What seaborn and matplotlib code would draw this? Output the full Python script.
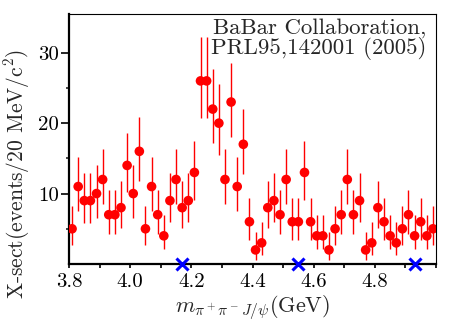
import numpy as np
import pandas as pd
import matplotlib
matplotlib.use("Agg")
import matplotlib.pyplot as plt
from matplotlib.ticker import MultipleLocator, FixedLocator, FormatStrFormatter
import seaborn as sns

# ---- data ----
mass = [3.81, 3.83, 3.85, 3.87, 3.89, 3.91, 3.93, 3.95, 3.97, 3.99,
        4.01, 4.03, 4.05, 4.07, 4.09, 4.11, 4.13, 4.15, 4.17, 4.19,
        4.21, 4.23, 4.25, 4.27, 4.29, 4.31, 4.33, 4.35, 4.37, 4.39,
        4.41, 4.43, 4.45, 4.47, 4.49, 4.51, 4.53, 4.55, 4.57, 4.59,
        4.61, 4.63, 4.65, 4.67, 4.69, 4.71, 4.73, 4.75, 4.77, 4.79,
        4.81, 4.83, 4.85, 4.87, 4.89, 4.91, 4.93, 4.95, 4.97, 4.99]
xsect = [5, 11, 9, 9, 10, 12, 7, 7, 8, 14,
         10, 16, 5, 11, 7, 4, 9, 12, 8, 9,
         13, 26, 26, 22, 20, 12, 23, 11, 17, 6,
         2, 3, 8, 9, 7, 12, 6, 6, 13, 6,
         4, 4, 2, 5, 7, 12, 7, 9, 2, 3,
         8, 6, 4, 3, 5, 7, 4, 6, 4, 5]
err_lo = [2.3, 3.5, 3.2, 3.2, 3.4, 3.5, 2.8, 2.8, 2.9, 3.8,
          3.4, 4.2, 2.3, 3.5, 2.8, 1.9, 3.1, 3.5, 2.9, 3.1,
          3.9, 5.2, 5.2, 4.8, 4.5, 3.5, 5.0, 3.5, 4.2, 2.6,
          1.4, 1.7, 2.9, 3.1, 2.8, 3.5, 2.6, 2.6, 3.9, 2.6,
          1.9, 1.9, 1.4, 2.3, 2.8, 3.5, 2.8, 3.1, 1.4, 1.7,
          2.9, 2.6, 1.9, 1.7, 2.3, 2.8, 1.9, 2.6, 1.9, 2.3]
err_hi = [3.2, 4.2, 3.9, 3.9, 4.1, 4.4, 3.5, 3.5, 3.8, 4.6,
          4.1, 4.9, 3.2, 4.2, 3.5, 3.0, 3.9, 4.4, 3.8, 3.9,
          4.5, 6.2, 6.2, 5.7, 5.5, 4.4, 5.6, 4.2, 5.0, 3.4,
          2.5, 2.9, 3.8, 3.9, 3.5, 4.4, 3.4, 3.4, 4.5, 3.4,
          3.0, 3.0, 2.5, 3.2, 3.5, 4.4, 3.5, 3.9, 2.5, 2.9,
          3.8, 3.4, 3.0, 2.9, 3.2, 3.5, 3.0, 3.4, 3.0, 3.2]
cross_mass = [4.17, 4.55, 4.93]
cross_y = [0, 0, 0]

xticks = [3.8, 4.0, 4.2, 4.4, 4.6, 4.8]
yticks = [10, 20, 30]

df = pd.DataFrame({"mass": mass, "xsect": xsect})
dfx = pd.DataFrame({"mass": cross_mass, "y": cross_y})

sns.set_theme(style="ticks")
plt.rcParams["font.family"] = ["cmr10", "DejaVu Serif"]
plt.rcParams["mathtext.fontset"] = "cm"
plt.rcParams["axes.formatter.use_mathtext"] = True

fig = plt.figure(figsize=(4.67, 3.32), dpi=100)
ax = fig.add_axes([69/467, 1-264/332, (436-69)/467, (264-14)/332])

ax.errorbar(df["mass"], df["xsect"], yerr=[err_lo, err_hi], fmt="none",
            ecolor="#ff0000", elinewidth=1.0, capsize=0, zorder=2)
sns.scatterplot(data=df, x="mass", y="xsect", ax=ax, color="#ff0000",
                s=48, edgecolor="none", linewidth=0, zorder=3, legend=False)
sns.scatterplot(data=dfx, x="mass", y="y", ax=ax, color="#0000ff", marker="x",
                s=75, linewidth=2.2, zorder=4, clip_on=False, legend=False)

ax.set_xlim(3.8, 5.0)
ax.set_ylim(0, 35.5)
ax.xaxis.set_major_locator(FixedLocator(xticks))
ax.xaxis.set_minor_locator(MultipleLocator(0.1))
ax.yaxis.set_major_locator(FixedLocator(yticks))
ax.yaxis.set_minor_locator(FixedLocator([5, 15, 25]))
ax.xaxis.set_major_formatter(FormatStrFormatter("%.1f"))
ax.yaxis.set_major_formatter(FormatStrFormatter("%d"))

ax.tick_params(axis="x", which="both", direction="out", length=3, width=1.2,
               labelsize=15, pad=3.5, colors="black")
ax.tick_params(axis="y", which="major", direction="out", length=6, width=1.2,
               labelsize=15, pad=1, colors="black")
ax.tick_params(axis="y", which="minor", direction="out", length=2.5, width=1.2)

for side in ["left", "bottom"]:
    ax.spines[side].set_linewidth(1.6)
for side in ["top", "right"]:
    ax.spines[side].set_linewidth(0.8)
for s in ax.spines.values():
    s.set_color("black")

ax.set_xlabel(r"$m_{\pi^+\pi^-J/\psi}$(GeV)", fontsize=16)
ax.set_ylabel(r"X-sect(events/20 MeV/c$^2$)", fontsize=15.5)
ax.xaxis.set_label_coords(0.5, -0.118)
ax.yaxis.set_label_coords(-0.1, 0.36)

ax.text(0.975, 0.985, "BaBar Collaboration,\nPRL95,142001 (2005)",
        transform=ax.transAxes, ha="right", va="top", fontsize=16.5,
        linespacing=0.95)

fig.savefig("out.png", dpi=100)
